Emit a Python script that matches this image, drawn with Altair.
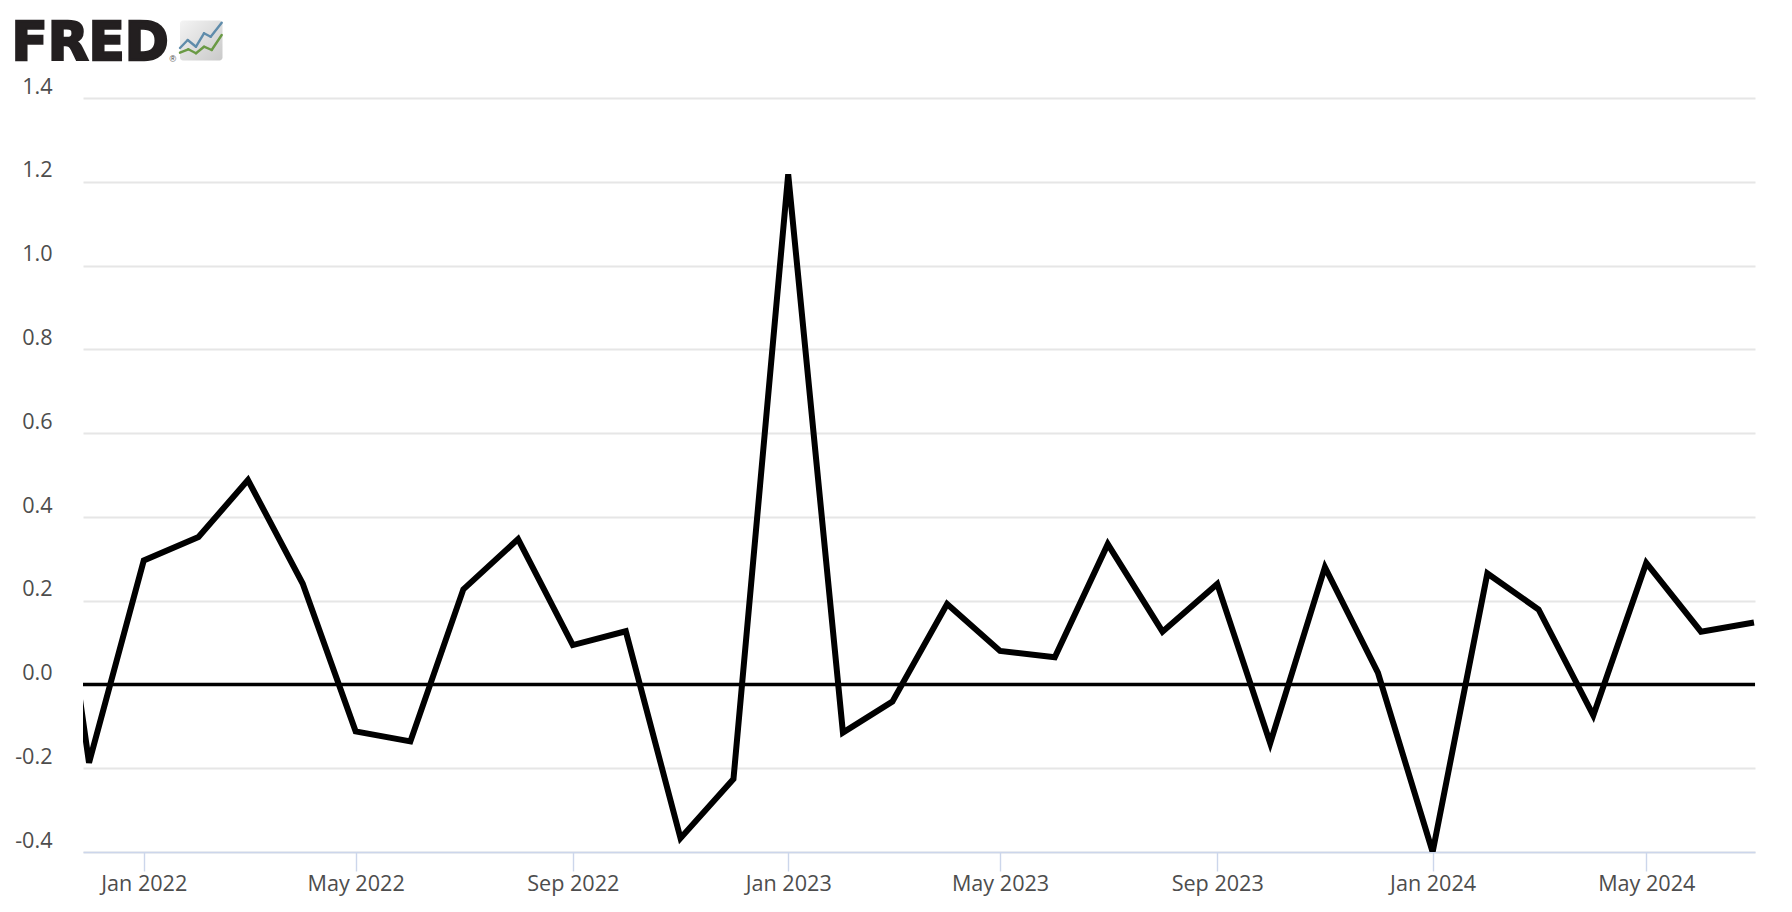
import altair as alt
import pandas as pd

months = [
    "2021-11-01", "2021-12-01",
    "2022-01-01", "2022-02-01", "2022-03-01", "2022-04-01", "2022-05-01", "2022-06-01",
    "2022-07-01", "2022-08-01", "2022-09-01", "2022-10-01", "2022-11-01", "2022-12-01",
    "2023-01-01", "2023-02-01", "2023-03-01", "2023-04-01", "2023-05-01", "2023-06-01",
    "2023-07-01", "2023-08-01", "2023-09-01", "2023-10-01", "2023-11-01", "2023-12-01",
    "2024-01-01", "2024-02-01", "2024-03-01", "2024-04-01", "2024-05-01", "2024-06-01",
    "2024-07-01",
]
values = [
    0.70, -0.187,
    0.296, 0.352, 0.488, 0.241, -0.112, -0.136,
    0.227, 0.347, 0.094, 0.127, -0.367, -0.226,
    1.218, -0.115, -0.041, 0.192, 0.080, 0.065,
    0.335, 0.126, 0.240, -0.140, 0.280, 0.028,
    -0.400, 0.265, 0.179, -0.074, 0.290, 0.126,
    0.148,
]
y_ticks = [-0.4, -0.2, 0.0, 0.2, 0.4, 0.6, 0.8, 1.0, 1.2, 1.4]
x_ticks = [(2022, 1), (2022, 5), (2022, 9), (2023, 1), (2023, 5), (2023, 9), (2024, 1), (2024, 5)]

FONT = "Open Sans"
LABEL = "#4d4d4d"
PLOT_L, PLOT_T, PLOT_W, PLOT_H = 83, 98, 1672, 754

df = pd.DataFrame({"date": months, "value": values})
x_scale = alt.Scale(
    type="utc",
    domain=[
        alt.DateTime(year=2021, month=11, date=27, hours=14, utc=True),
        alt.DateTime(year=2024, month=7, date=1, hours=14, utc=True),
    ],
)
y_scale = alt.Scale(domain=[-0.4, 1.4], nice=False, zero=False)

x_axis = alt.Axis(
    values=[alt.DateTime(year=y, month=m, date=1, utc=True) for y, m in x_ticks],
    labelExpr="utcFormat(datum.value, '%b %Y')",
    title=None, grid=False,
    tickColor="#ccd6eb", tickSize=19, tickWidth=1.4,
    domainColor="#ccd6eb", domainWidth=1.4,
    labelFont=FONT, labelFontSize=21.6, labelColor=LABEL, labelPadding=2,
    labelOverlap=False, labelFlush=False,
)
y_axis = alt.Axis(
    values=y_ticks, title=None,
    labelExpr="replace(format(datum.value, '.1f'), '\u2212', '-')",
    grid=True, gridColor="#e6e6e6", gridWidth=1.8,
    domain=False, ticks=False, tickSize=0,
    labelFont=FONT, labelFontSize=21.6, labelColor=LABEL,
    labelAlign="right", labelPadding=31, labelOffset=-10.8,
    labelOverlap=False, labelFlush=False,
)

base = alt.Chart(df)
line = base.mark_line(
    color="#000000", strokeWidth=6, clip=True, strokeJoin="miter", strokeMiterLimit=4,
).encode(
    x=alt.X("date:T", scale=x_scale, axis=x_axis),
    y=alt.Y("value:Q", scale=y_scale, axis=y_axis),
)
zero = alt.Chart(pd.DataFrame({"z": [0.0]})).mark_rule(color="#000000", strokeWidth=3.4).encode(
    y=alt.Y("z:Q", scale=y_scale, axis=y_axis),
)

# logo, positioned in pixels relative to the plot's corner
one = alt.Data(values=[{"a": 1}])
def px(v): return alt.value(v - PLOT_L)
def py(v): return alt.value(v - PLOT_T)

logo_word = alt.Chart(one).mark_text(
    text="FRED", font="DejaVu Sans", fontWeight="bold", fontSize=53,
    color="#231f20", stroke="#231f20", strokeWidth=2.4, align="left", baseline="alphabetic",
).encode(x=px(11.5), y=py(59.5))
logo_reg = alt.Chart(one).mark_text(
    text="®", font="Liberation Sans", fontSize=9, color="#444444", align="left", baseline="alphabetic",
).encode(x=px(169.5), y=py(62))
logo_box = alt.Chart(one).mark_rect(
    cornerRadius=3,
    fill=alt.LinearGradient(
        gradient="linear", x1=0, y1=0, x2=1, y2=1,
        stops=[alt.GradientStop(color="#f4f4f4", offset=0), alt.GradientStop(color="#c9c9c9", offset=1)],
    ),
).encode(x=px(180), x2=px(222.5), y=py(20.5), y2=py(60.5))

blue = [(180, 48), (187.7, 40), (196, 46.7), (204, 33.3), (210.7, 36.7), (221.7, 22.7)]
green = [(180, 52.7), (188.3, 49.3), (196, 53.3), (204, 46.7), (211.7, 50), (221.7, 35)]
logo_lines = []
for pts, col in ((blue, "#5f8cab"), (green, "#6a9a45")):
    for (x0, y0), (x1, y1) in zip(pts, pts[1:]):
        logo_lines.append(
            alt.Chart(one).mark_rule(color=col, strokeWidth=2.4, strokeCap="round").encode(
                x=px(x0), x2=px(x1), y=py(y0), y2=py(y1)
            )
        )

chart = alt.layer(line, zero, logo_box, *logo_lines, logo_word, logo_reg).properties(
    width=PLOT_W, height=PLOT_H,
    autosize=alt.AutoSizeParams(type="none"),
    padding={"left": PLOT_L - 8, "top": PLOT_T - 8, "right": 20, "bottom": 56},
    background="#ffffff",
).configure_view(stroke=None)

chart.save("out.html", embed_options={"renderer": "svg", "actions": False})
